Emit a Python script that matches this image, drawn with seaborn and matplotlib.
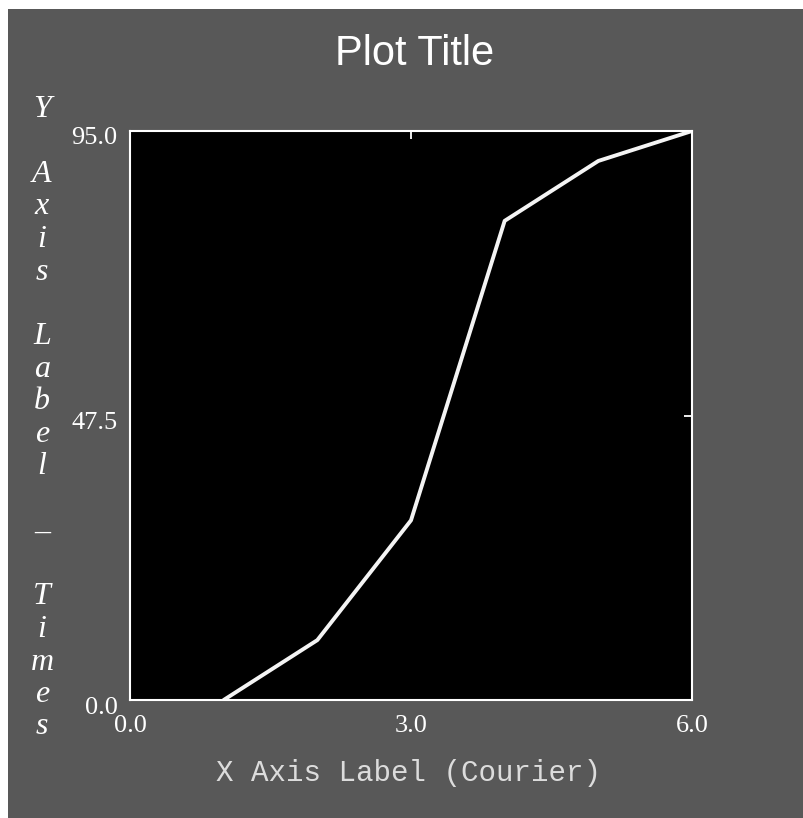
import matplotlib
matplotlib.use("Agg")
import matplotlib.pyplot as plt
import matplotlib.transforms as mtransforms
from matplotlib.patches import Rectangle
import seaborn as sns

# data
x_vals = [1, 2, 3, 4, 5, 6]
y_vals = [0, 10, 30, 80, 90, 95]
x_ticks = [0.0, 3.0, 6.0]
y_ticks = [0.0, 47.5, 95.0]
x_tick_labels = ["0.0", "3.0", "6.0"]
y_tick_labels = ["0.0", "47.5", "95.0"]
title = "Plot Title"
x_label = "X Axis Label (Courier)"
y_label = "Y Axis Label \u2013 Times"

sns.set_style("dark")
plt.rcParams['font.family'] = ['Liberation Serif', 'DejaVu Serif']

W, H = 804, 818
fig = plt.figure(figsize=(W / 100, H / 100), dpi=100, facecolor="white")
# gray backdrop, leaving the thin white strip at the left and top
fig.patches.append(Rectangle((8 / W, 0), 1, (H - 9) / H, transform=fig.transFigure,
                             facecolor="#585858", edgecolor="none", zorder=-10))

ax = fig.add_axes([130 / W, (H - 700) / H, 562 / W, 569 / H])
ax.set_facecolor("black")

sns.lineplot(x=x_vals, y=y_vals, color="#f4f4f4", lw=2.8, ax=ax)

ax.set_xlim(0, 6)
ax.set_ylim(0, 95)
ax.set_xticks(x_ticks)
ax.set_xticklabels(x_tick_labels)
ax.set_yticks(y_ticks)
ax.set_yticklabels(y_tick_labels)
ax.grid(False)

for s in ax.spines.values():
    s.set_visible(True)
    s.set_color("white")
    s.set_linewidth(1.5)

ax.tick_params(axis="both", direction="in", length=6, width=1.3, color="white",
               labelcolor="white", labelsize=19, top=True, right=True)
ax.tick_params(axis="x", pad=11)
ax.tick_params(axis="y", pad=9)

# y tick labels sit a little below their ticks
shift = mtransforms.ScaledTranslation(0, -5 / 100, fig.dpi_scale_trans)
for lab in ax.get_yticklabels():
    lab.set_transform(lab.get_transform() + shift)

fig.text(415 / W, 1 - 65 / H, title, ha="center", va="baseline", color="white",
         fontsize=30, family=["Liberation Sans", "DejaVu Sans"])

fig.text(409 / W, 1 - 773 / H, x_label, ha="center", va="center", color="#dcdcdc",
         fontsize=21, family=["Liberation Mono", "DejaVu Sans Mono"])

# stacked italic y label, one character per line
for i, ch in enumerate(y_label):
    if ch == " ":
        continue
    fig.text(42 / W, 1 - (117 + i * 32.5) / H, ch, ha="center", va="baseline",
             color="white", fontsize=23, style="italic",
             family=["Liberation Serif", "DejaVu Serif"])

fig.savefig("out.png", dpi=100, facecolor=fig.get_facecolor())
